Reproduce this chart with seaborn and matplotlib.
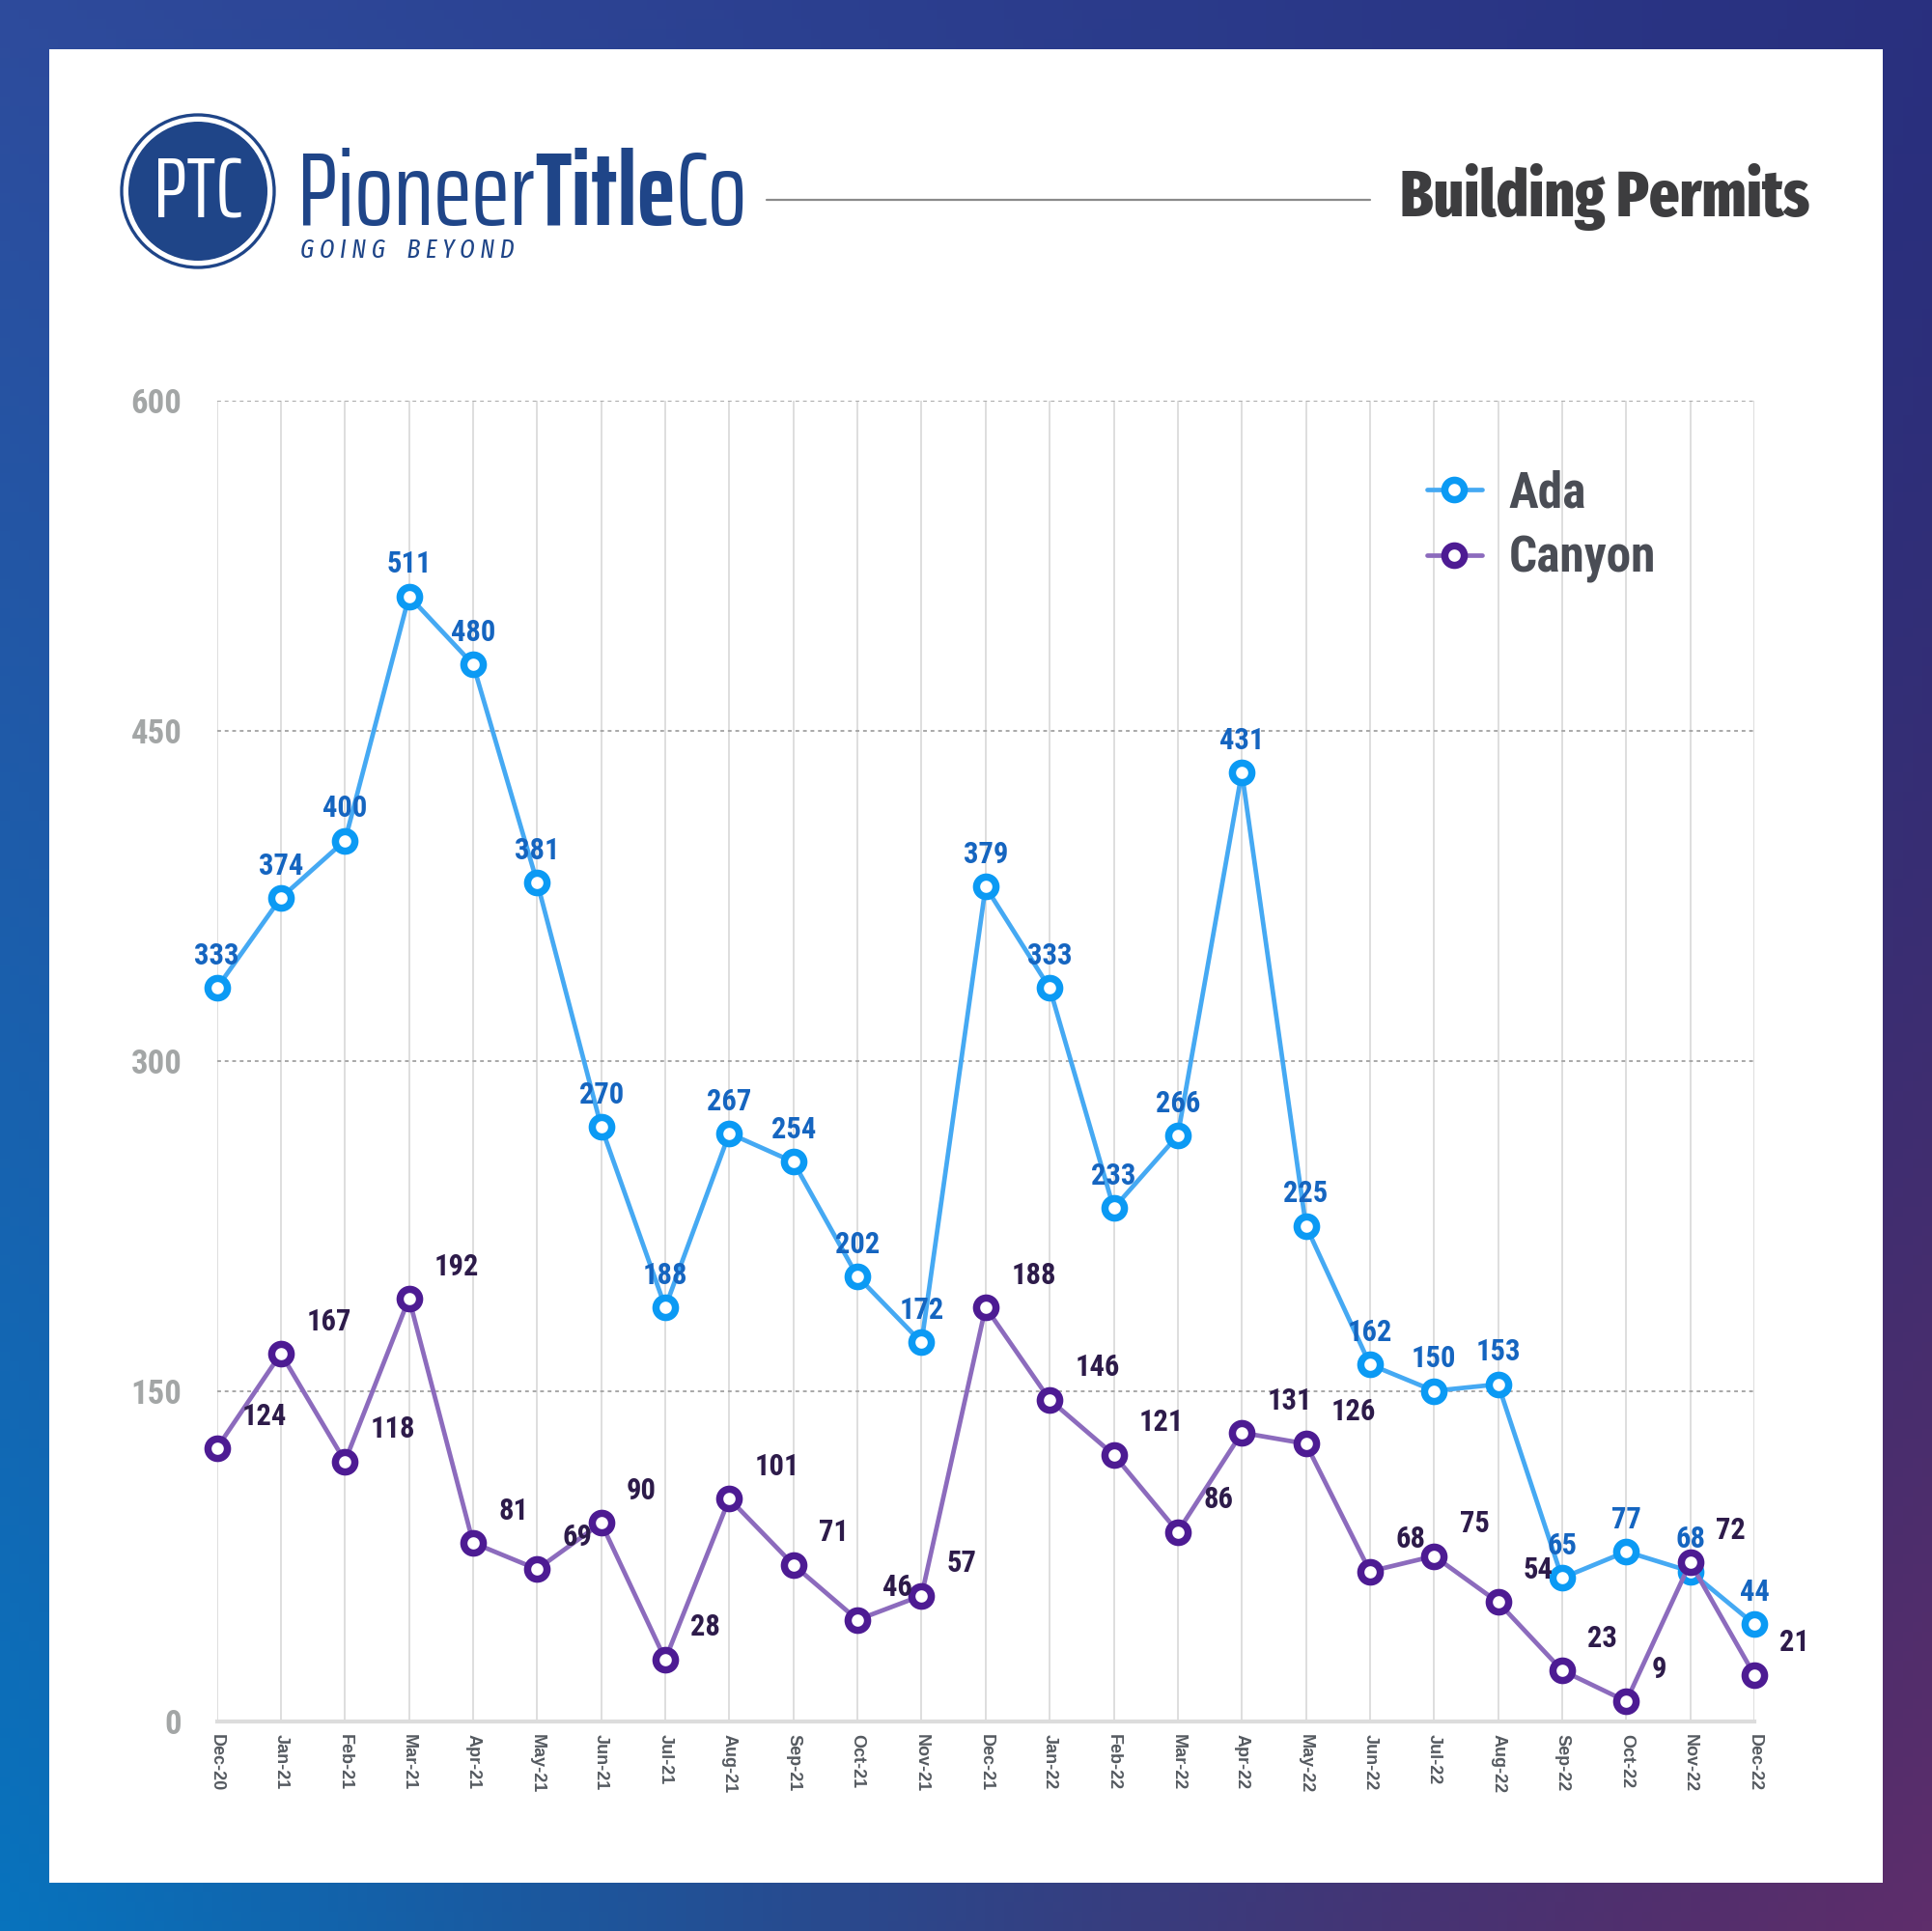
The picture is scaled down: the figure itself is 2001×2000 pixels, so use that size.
import numpy as np
import pandas as pd
import matplotlib
matplotlib.use("Agg")
import matplotlib.pyplot as plt
import matplotlib.patches as mpatches
import seaborn as sns

# data
MONTHS = ["Dec-20", "Jan-21", "Feb-21", "Mar-21", "Apr-21", "May-21", "Jun-21", "Jul-21",
          "Aug-21", "Sep-21", "Oct-21", "Nov-21", "Dec-21", "Jan-22", "Feb-22", "Mar-22",
          "Apr-22", "May-22", "Jun-22", "Jul-22", "Aug-22", "Sep-22", "Oct-22", "Nov-22", "Dec-22"]
ADA = [333, 374, 400, 511, 480, 381, 270, 188, 267, 254, 202, 172, 379,
       333, 233, 266, 431, 225, 162, 150, 153, 65, 77, 68, 44]
CANYON = [124, 167, 118, 192, 81, 69, 90, 28, 101, 71, 46, 57, 188,
          146, 121, 86, 131, 126, 68, 75, 54, 23, 9, 72, 21]
Y_TICKS = [0, 150, 300, 450, 600]

W, H = 2001, 2000

sns.set_theme(style="white")
# condensed faces, with safe fallbacks
COND = ["Roboto Condensed", "Liberation Sans Narrow", "DejaVu Sans"]
XCOND = ["Saira ExtraCondensed", "Fira Sans Extra Condensed", "Roboto Condensed", "DejaVu Sans"]
FIRA = ["Fira Sans Extra Condensed", "Roboto Condensed", "DejaVu Sans"]
plt.rcParams["font.family"] = ["Liberation Sans", "DejaVu Sans"]

fig = plt.figure(figsize=(W / 100, H / 100), dpi=100)

# --- background gradient + white card + header (pixel coords) ---
bg = fig.add_axes([0, 0, 1, 1])
bg.set_xlim(0, W)
bg.set_ylim(H, 0)
bg.axis("off")

def hex2rgb(h):
    return np.array([int(h[i:i + 2], 16) for i in (1, 3, 5)]) / 255.0

tl, tr, bl, br = (hex2rgb(c) for c in ("#2e4b9c", "#29307f", "#0873bd", "#2a2a6c"))
purple = hex2rgb("#5e2e6b")
u = np.linspace(0, 1, 200)[None, :, None]
v = np.linspace(0, 1, 200)[:, None, None]
grad = (1 - v) * ((1 - u) * tl + u * tr) + v * ((1 - u) * bl + u * br)
wgt = (u * v) ** 1.6
grad = grad * (1 - wgt) + purple * wgt
bg.imshow(grad, extent=[0, W, H, 0], aspect="auto", zorder=0)
bg.add_patch(mpatches.Rectangle((51, 51), 1899, 1899, facecolor="white", edgecolor="none", zorder=1))

# logo
logo_blue = "#1f4588"
cx, cy = 205, 198
bg.add_patch(mpatches.Circle((cx, cy), 79, facecolor="none", edgecolor=logo_blue, lw=2.4, zorder=2))
bg.add_patch(mpatches.Circle((cx, cy), 72, facecolor=logo_blue, edgecolor="none", zorder=2))
bg.text(cx, cy + 3, "PTC", color="white", fontsize=64, family=XCOND, ha="center", va="center", zorder=3)

t1 = bg.text(308, 233, "Pioneer", color=logo_blue, fontsize=77, family=XCOND, va="baseline", zorder=3)
t2 = bg.annotate("Title", xy=(1, 0), xycoords=t1, color=logo_blue, fontsize=77, family=XCOND,
                 fontweight="bold", va="bottom", ha="left", zorder=3)
bg.annotate("Co", xy=(1, 0), xycoords=t2, color=logo_blue, fontsize=77, family=XCOND,
            va="bottom", ha="left", zorder=3)
bg.text(311, 267, "G O I N G    B E Y O N D", color=logo_blue, fontsize=19.5, family=FIRA,
        style="italic", va="baseline", zorder=3)

bg.plot([794, 1419], [207, 207], color="#8a8a8a", lw=1.6, zorder=2)
bg.text(1874, 204, "Building Permits", color="#3d3d3f", fontsize=48, family=FIRA,
        fontweight="heavy", ha="right", va="center", zorder=3)

# --- main chart ---
ax = fig.add_axes([224.6 / W, 0.1087, (1817 - 224.6) / W, 0.7927 - 0.1087])
ax.set_facecolor("white")

x = np.arange(len(MONTHS))
series = [
    ("Ada", ADA, "#45a9f3", "#0b9af4", "#1565c0", (0, 24), "center"),
    ("Canyon", CANYON, "#8c6bbd", "#4d1b93", "#2d1b4a", (19, 24), "left"),
]
for name, vals, line_c, edge_c, text_c, off, ha in series:
    df = pd.DataFrame({"month": x, "value": vals})
    sns.lineplot(data=df, x="month", y="value", ax=ax, color=line_c, lw=3.4, marker="o",
                 markersize=14.5, markerfacecolor="white", markeredgecolor=edge_c,
                 markeredgewidth=5.4, label=name, clip_on=False, zorder=4)
    for xi, yi in zip(x, vals):
        ax.annotate(str(yi), (xi, yi), xytext=off, textcoords="offset points", ha=ha,
                    va="center", color=text_c, fontsize=22, fontweight="bold",
                    family=COND, zorder=6, annotation_clip=False)

ax.set_xlim(0, len(MONTHS) - 1)
ax.set_ylim(0, 600)
ax.set_xticks(x)
ax.set_xticklabels(MONTHS, rotation=270, fontsize=13, fontweight="bold", color="#555a60")
ax.set_yticks(Y_TICKS)
ax.set_yticklabels([str(t) for t in Y_TICKS], fontsize=25, fontweight="bold", color="#a3a6a6",
                   family=COND)
ax.tick_params(axis="x", length=0, pad=10)
ax.tick_params(axis="y", length=0, pad=26)
ax.set_xlabel("")
ax.set_ylabel("")
for xi in x:
    ax.axvline(xi, color="#dedede", lw=1.4, zorder=1)
for yt in Y_TICKS[1:]:
    ax.axhline(yt, color="#a8a8a8", lw=1.4, ls=(0, (2, 2)), zorder=1)
for side in ["top", "right", "left"]:
    ax.spines[side].set_visible(False)
ax.spines["bottom"].set_color("#dcdcdc")
ax.spines["bottom"].set_linewidth(3)

leg = ax.legend(loc="upper left", bbox_to_anchor=(1478 / W, 1 - 486 / H),
                bbox_transform=fig.transFigure, frameon=False, handlelength=1.1,
                handletextpad=0.55, labelspacing=0.35, borderpad=0, borderaxespad=0,
                prop={"family": COND, "weight": "bold", "size": 37})
for txt in leg.get_texts():
    txt.set_color("#4a4d55")

fig.savefig("out.png", dpi=100)
